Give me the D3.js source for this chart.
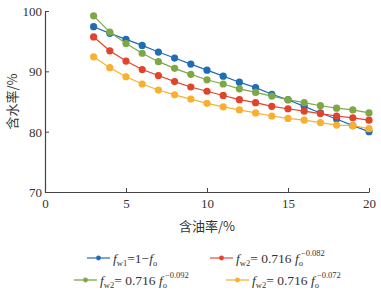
<!DOCTYPE html>
<html>
<head>
<meta charset="utf-8">
<script src="https://cdn.jsdelivr.net/npm/d3@7"></script>
<style>
  body { margin: 0; background: #fff; }
  text { font-family: "Liberation Serif", "Times New Roman", serif; fill: #333; }
  .cjk { font-family: "Noto Sans CJK SC", sans-serif; }
</style>
</head>
<body>
<div id="chart"></div>
<script>
// dữ liệu
const oilRate = [3, 4, 5, 6, 7, 8, 9, 10, 11, 12, 13, 14, 15, 16, 17, 18, 19, 20];
const fw1 = [97.4, 96.3, 95.3, 94.3, 93.2, 92.2, 91.2, 90.2, 89.2, 88.2, 87.3, 86.2, 85.3, 84.2, 83.1, 82.1, 81.0, 80.0];
const fw082 = [95.7, 93.4, 91.7, 90.3, 89.3, 88.3, 87.4, 86.7, 86.0, 85.3, 84.8, 84.2, 83.8, 83.4, 83.0, 82.6, 82.3, 81.9];
const fw092 = [99.2, 96.5, 94.6, 93.0, 91.6, 90.5, 89.5, 88.6, 87.9, 87.1, 86.5, 85.9, 85.3, 84.8, 84.3, 83.9, 83.6, 83.1];
const fw072 = [92.4, 90.6, 89.1, 87.9, 86.9, 86.1, 85.4, 84.7, 84.1, 83.6, 83.1, 82.6, 82.2, 81.9, 81.5, 81.1, 81.0, 80.5];
const xTicks = [0, 5, 10, 15, 20];
const yTicks = [70, 80, 90, 100];

const series = [
  { name: "w1", values: fw1, color: "#1f6db5", light: "#7aa6d6", expo: null },
  { name: "082", values: fw082, color: "#e2432b", light: "#ee958a", expo: "\u22120.082" },
  { name: "092", values: fw092, color: "#7ea845", light: "#a9c585", expo: "\u22120.092" },
  { name: "072", values: fw072, color: "#f8b030", light: "#f9cd80", expo: "\u22120.072" }
];

const width = 381, height = 297;
const margin = { left: 45, right: 12, top: 11, bottom: 105 };

const svg = d3.select("#chart").append("svg")
  .attr("width", width).attr("height", height);

const x = d3.scaleLinear().domain([0, 20]).range([margin.left, width - margin.right]);
const y = d3.scaleLinear().domain([70, 100]).range([height - margin.bottom, margin.top]);

// Trục
const xAxis = svg.append("g")
  .attr("transform", `translate(0,${y(70)})`)
  .call(d3.axisBottom(x).tickValues(xTicks).tickSizeInner(-4).tickSizeOuter(0).tickPadding(7));
const yAxis = svg.append("g")
  .attr("transform", `translate(${x(0)},0)`)
  .call(d3.axisLeft(y).tickValues(yTicks).tickSizeInner(-4).tickSizeOuter(0).tickPadding(3));

[xAxis, yAxis].forEach(g => {
  g.select(".domain").attr("stroke", "#444").attr("stroke-width", 1.2);
  g.selectAll(".tick line").attr("stroke", "#444");
  g.selectAll(".tick text").attr("fill", "#333").style("font-size", "13px")
    .style("font-family", "Liberation Serif, serif");
});
yAxis.selectAll(".tick text").attr("dy", "0.35em");

// Tiêu đề trục
svg.append("text").attr("class", "cjk")
  .attr("x", x(10)).attr("y", 231)
  .attr("text-anchor", "middle").style("font-size", "13px")
  .text("含油率/%");
svg.append("text").attr("class", "cjk")
  .attr("transform", `translate(17,${y(85)}) rotate(-90)`)
  .attr("text-anchor", "middle").style("font-size", "13px")
  .text("含水率/%");

// Đường + điểm
const line = d3.line().x((d, i) => x(oilRate[i])).y(d => y(d));
series.forEach(s => {
  svg.append("path").datum(s.values)
    .attr("d", line).attr("fill", "none")
    .attr("stroke", s.color).attr("stroke-width", 1.2);
  svg.append("g").selectAll("circle").data(s.values).join("circle")
    .attr("cx", (d, i) => x(oilRate[i])).attr("cy", d => y(d))
    .attr("r", 3.6).attr("fill", s.color);
});

// Chú giải
const legendPos = [
  { lx: 87, ly: 258 },
  { lx: 210, ly: 258 },
  { lx: 74, ly: 280 },
  { lx: 226, ly: 280 }
];
series.forEach((s, i) => {
  const p = legendPos[i];
  const g = svg.append("g").attr("transform", `translate(${p.lx},${p.ly})`);
  g.append("line").attr("x1", 0).attr("x2", 23).attr("y1", 0).attr("y2", 0)
    .attr("stroke", s.light).attr("stroke-width", 2);
  g.append("circle").attr("cx", 11.5).attr("cy", 0).attr("r", 2.4).attr("fill", s.color);
  const t = g.append("text").attr("x", 26).attr("y", 5).style("font-size", "13.5px");
  t.append("tspan").style("font-style", "italic").text("f");
  t.append("tspan").attr("dy", 3).style("font-size", "8.5px").text(i === 0 ? "w1" : "w2");
  if (s.expo === null) {
    t.append("tspan").attr("dy", -3).text("=1\u2212");
    t.append("tspan").style("font-style", "italic").text("f");
    t.append("tspan").attr("dy", 3).style("font-size", "8.5px").text("o");
  } else {
    t.append("tspan").attr("dy", -3).text("= 0.716 ");
    t.append("tspan").style("font-style", "italic").text("f");
    t.append("tspan").attr("dy", 3).style("font-size", "8.5px").text("o");
    t.append("tspan").attr("dx", -2).attr("dy", -10).style("font-size", "8.5px").text(s.expo);
  }
});
</script>
</body>
</html>
